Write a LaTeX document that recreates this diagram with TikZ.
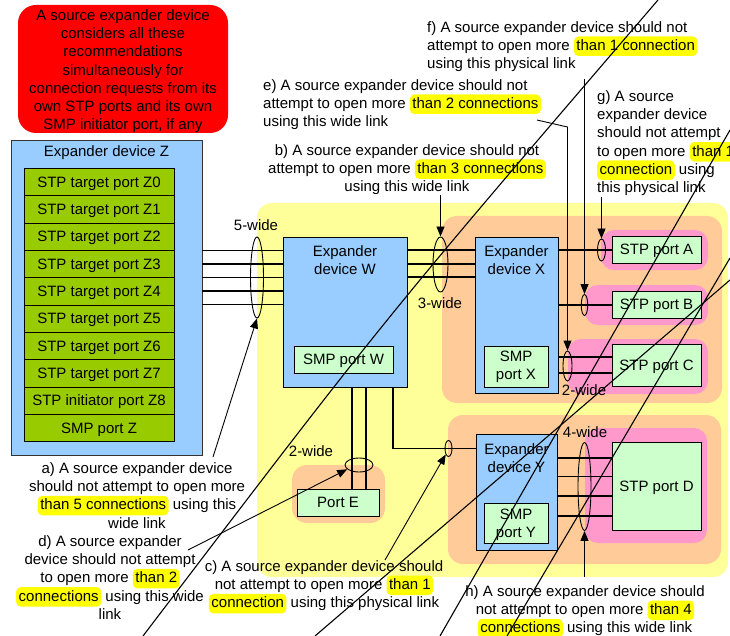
\documentclass[tikz,border=0pt]{standalone}
\usepackage{fontspec}
\setmainfont{Liberation Sans}
\usetikzlibrary{arrows.meta,shapes.geometric}
\definecolor{redbox}{HTML}{FF0000}
\definecolor{zblue}{HTML}{99CCFF}
\definecolor{zgreen}{HTML}{99CC00}
\definecolor{lgreen}{HTML}{CCFFCC}
\definecolor{yellowbg}{HTML}{FFFF99}
\definecolor{orangebg}{HTML}{FFCC99}
\definecolor{pinkbg}{HTML}{FF99CC}
\definecolor{hly}{HTML}{FFFF00}
\newcommand{\hlt}[1]{\tikz[baseline=(hltnode.base)]\node[fill=hly,draw=none,rounded corners=4.5pt,inner xsep=2.5pt,inner ysep=0pt,text height=14pt,text depth=5.5pt,anchor=base,outer sep=0pt,text=black](hltnode){#1};}
\newcommand{\strt}{\rule{0pt}{11pt}}
\lineskiplimit=-100pt
\begin{document}
\begin{tikzpicture}[x=1pt,y=-1pt,
  txt/.style={font=\fontsize{15}{18.3}\selectfont, inner sep=0pt, text=black},
  ctxt/.style={txt, text height=10.5pt, text depth=0pt},
  box/.style={draw=black, line width=0.9pt, inner sep=0pt},
  region/.style={rounded corners=15pt},
  link/.style={line width=1.3pt},
  ell/.style={ellipse, draw=black, line width=0.9pt, inner sep=0pt},
  arr/.style={line width=0.9pt, -{Triangle[length=10pt,width=8pt]}},
  strike/.style={line width=1.1pt}]
\useasboundingbox (0,0) rectangle (730,636);
\fill[white] (0,0) rectangle (730,636);

% background regions
\fill[yellowbg, region] (257,203) rectangle (728,577);
\fill[orangebg, region] (442,216) rectangle (722,403);
\fill[orangebg, region] (448,415) rectangle (721,564);
\fill[orangebg, region] (292,465) rectangle (385,523);
\fill[pinkbg, rounded corners=13pt] (601,230) rectangle (708,270);
\fill[pinkbg, rounded corners=13pt] (585,285) rectangle (708,325);
\fill[pinkbg, rounded corners=13pt] (568,339) rectangle (708,394);
\fill[pinkbg, rounded corners=13pt] (585,428) rectangle (707,543);

% red note
\node[fill=redbox, rounded corners=18pt, minimum width=210pt, minimum height=128pt, inner sep=0pt] (redbox) at (123,69) {};
\node[txt, align=center, anchor=north] (redtxt) at (123,9) {\strt A source expander device\\considers all these\\recommendations\\simultaneously for\\connection requests from its\\own STP ports and its own\\SMP initiator port, if any};

% expander device Z
\node[box, draw=black!80, fill=zblue, minimum width=191pt, minimum height=315pt] (zdev) at (106.5,297.5) {};
\node[txt, anchor=base] (ztitle) at (106.5,157) {Expander device Z};
\foreach \i/\t in {0/STP target port Z0,1/STP target port Z1,2/STP target port Z2,3/STP target port Z3,4/STP target port Z4,5/STP target port Z5,6/STP target port Z6,7/STP target port Z7,8/STP initiator port Z8,9/SMP port Z}
  \node[box, ctxt, fill=zgreen, minimum width=150pt, minimum height=27.34pt] (z\i) at (99,181.97+27.34*\i) {\t};

% expander device W
\node[box, fill=zblue, minimum width=124pt, minimum height=150pt] (wdev) at (345,312) {};
\node[txt, align=center, anchor=north] (wtxt) at (345,245) {\strt Expander\\device W};
\node[box, ctxt, fill=lgreen, minimum width=99pt, minimum height=27pt] (smpw) at (343.5,359.5) {SMP port W};

% expander device X
\node[box, fill=zblue, minimum width=83pt, minimum height=156pt] (xdev) at (516.5,315) {};
\node[txt, align=center, anchor=north] (xtxt) at (516.5,245) {\strt Expander\\device X};
\node[box, fill=lgreen, minimum width=64pt, minimum height=41pt] (smpx) at (516,366.5) {};
\node[txt, align=center, anchor=north] (smpxt) at (516,350) {\strt SMP\\port X};

% STP ports A, B, C
\node[box, ctxt, fill=lgreen, minimum width=89pt, minimum height=27pt] (stpa) at (656.5,249.5) {STP port A};
\node[box, ctxt, fill=lgreen, minimum width=89pt, minimum height=27pt] (stpb) at (656.5,304.5) {STP port B};
\node[box, ctxt, fill=lgreen, minimum width=89pt, minimum height=42pt] (stpc) at (656.5,365) {STP port C};

% expander device Y
\node[box, fill=zblue, minimum width=81pt, minimum height=116pt] (ydev) at (516.5,492) {};
\node[txt, align=center, anchor=north] (ytxt) at (516.5,443) {\strt Expander\\device Y};
\node[box, fill=lgreen, minimum width=64pt, minimum height=40pt] (smpy) at (516,523) {};
\node[txt, align=center, anchor=north] (smpyt) at (516,508) {\strt SMP\\port Y};
\node[box, ctxt, fill=lgreen, minimum width=89pt, minimum height=88pt] (stpd) at (656.5,486) {STP port D};

% port E
\node[box, ctxt, fill=lgreen, minimum width=82pt, minimum height=27pt] (porte) at (338,502.5) {Port E};

% links
\foreach \yy in {250.5,264,277.3,291,304.3}
  \draw[link] (zdev.east |- 0,\yy) -- (wdev.west |- 0,\yy);
\foreach \yy in {250,264,277}
  \draw[link] (wdev.east |- 0,\yy) -- (xdev.west |- 0,\yy);
\draw[link] (xdev.east |- 0,250) -- (stpa.west |- 0,250);
\draw[link] (xdev.east |- 0,305) -- (stpb.west |- 0,305);
\foreach \yy in {357,373}
  \draw[link] (xdev.east |- 0,\yy) -- (stpc.west |- 0,\yy);
\foreach \yy in {458,476.5,496,516}
  \draw[link] (ydev.east |- 0,\yy) -- (stpd.west |- 0,\yy);
\foreach \xx in {352,366}
  \draw[link] (wdev.south -| \xx,0) -- (porte.north -| \xx,0);
\draw[link] (wdev.south -| 393,0) |- (ydev.west |- 0,448.5);

% ellipses
\node[ell, minimum width=13pt, minimum height=81pt] (e5) at (257,277.5) {};
\node[ell, minimum width=15pt, minimum height=55pt] (e3) at (440.5,264.5) {};
\node[ell, minimum width=8pt, minimum height=22pt] (ea) at (601.5,250) {};
\node[ell, minimum width=6.5pt, minimum height=21pt] (eb) at (584.5,305) {};
\node[ell, minimum width=9pt, minimum height=30pt] (ec) at (567.5,366) {};
\node[ell, minimum width=13pt, minimum height=88pt] (ed) at (584.5,486.5) {};
\node[ell, minimum width=28pt, minimum height=14pt] (ee) at (359,465) {};
\node[ell, minimum width=7pt, minimum height=16pt] (ey) at (448.5,448.5) {};

% width labels
\node[txt, anchor=base] (w5) at (256,231) {5-wide};
\node[txt, anchor=base] (w3) at (440,308) {3-wide};
\node[txt, anchor=base] (w2x) at (584,395) {2-wide};
\node[txt, anchor=base] (w2e) at (311,456) {2-wide};
\node[txt, anchor=base] (w4) at (585,437) {4-wide};

% annotation texts
\node[txt, align=left, anchor=north west] (tf) at (427,21) {\strt f) A source expander device should not\\attempt to open more \hlt{than 1 connection}\\using this physical link};
\node[txt, align=left, anchor=north west] (te) at (263,79) {\strt e) A source expander device should not\\attempt to open more \hlt{than 2 connections}\\using this wide link};
\node[txt, align=center, anchor=north] (tb) at (407,144) {\strt b) A source expander device should not\\attempt to open more \hlt{than 3 connections}\\using this wide link};
\node[txt, align=left, anchor=north west] (tg) at (597,90) {\strt g) A source\\expander device\\should not attempt\\to open more \hlt{than 1}\\\hlt{connection} using\\this physical link};
\node[txt, align=center, anchor=north] (ta) at (137,462) {\strt a) A source expander device\\should not attempt to open more\\\hlt{than 5 connections} using this\\wide link};
\node[txt, align=center, anchor=north] (td) at (110,535) {\strt d) A source expander\\device should not attempt\\to open more \hlt{than 2}\\\hlt{connections} using this wide\\link};
\node[txt, align=center, anchor=north] (tc) at (324,560) {\strt c) A source expander device should\\not attempt to open more \hlt{than 1}\\\hlt{connection} using this physical link};
\node[txt, align=center, anchor=north] (th) at (585,585) {\strt h) A source expander device should\\not attempt to open more \hlt{than 4}\\\hlt{connections} using this wide link};

% leader arrows
\coordinate (pa) at (213,457);
\coordinate (pb) at (440.5,195);
\coordinate (pc) at (385,560);
\coordinate (pd) at (188,550);
\coordinate (pe) at (537,120);
\coordinate (pe2) at (567.5,127);
\coordinate (pf) at (584.5,79);
\coordinate (pg) at (601.5,197);
\coordinate (ph) at (584.5,577);
\draw[arr] (pa) -- (e5.south);
\draw[arr] (pb) -- (e3.north);
\draw[arr] (pc) -- (ey.245);
\draw[arr] (pd) -- (ee.200);
\draw[arr] (pe) -- (pe2) -- (ec.north);
\draw[arr] (pf) -- (eb.north);
\draw[arr] (pg) -- (ea.north);
\draw[arr] (ph) -- (ed.south);

% strike-through lines
\draw[strike] (143,636) .. controls (385,318) .. (658,0);
\draw[strike] (315,636) -- (730,280);
\draw[strike] (440,636) -- (730,130);
\draw[strike] (507,636) -- (730,258);
\end{tikzpicture}
\end{document}
